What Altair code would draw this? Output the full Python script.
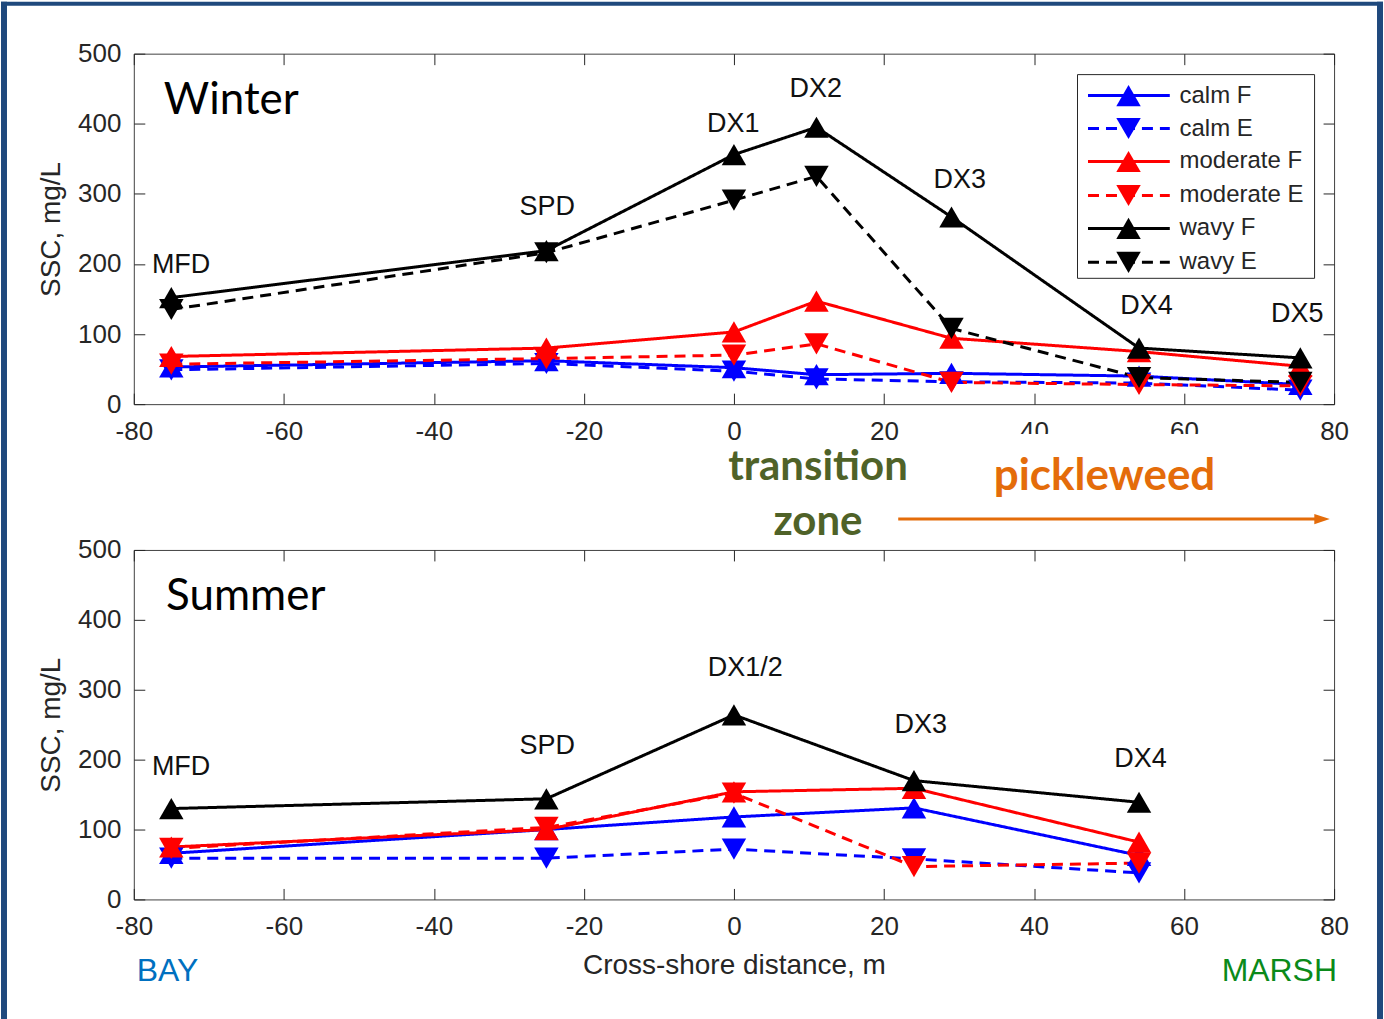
import altair as alt
import pandas as pd

# ---------------- data ----------------
series_names = ["calm F", "calm E", "moderate F", "moderate E", "wavy F", "wavy E"]
series_colors = ["#0000FF", "#0000FF", "#FF0000", "#FF0000", "#000000", "#000000"]
series_cond = ["F", "E", "F", "E", "F", "E"]

x_ticks = [-80, -60, -40, -20, 0, 20, 40, 60, 80]
y_ticks = [0, 100, 200, 300, 400, 500]

# Winter
winter_x = [-75, -25, 0, 11, 29, 54, 75.5]
winter_sites = ["MFD", "SPD", "DX1", "DX2", "DX3", "DX4", "DX5"]
winter_site_label_x = [-73.7, -24.9, -0.1, 10.9, 30.1, 55.0, 75.1]
winter_site_label_y = [199, 281, 400, 450, 320, 140, 128]
winter_calm_F = [53, 62, 52, 42, 44, 40, 28]
winter_calm_E = [49, 58, 47, 36, 32, 30, 20]
winter_moderate_F = [68, 80, 103, 147, 94, 75, 54]
winter_moderate_E = [57, 65, 70, 86, 31, 28, 26]
winter_wavy_F = [152, 219, 356, 395, 267, 80, 66]
winter_wavy_E = [135, 216, 291, 325, 108, 38, 31]

# Summer
summer_x = [-75, -25, 0, 24, 54]
summer_sites = ["MFD", "SPD", "DX1/2", "DX3", "DX4"]
summer_site_label_x = [-73.7, -24.9, 1.5, 24.9, 54.2]
summer_site_label_y = [190, 220, 331, 250, 201]
summer_calm_F = [66, 100, 118, 131, 63]
summer_calm_E = [59, 59, 72, 58, 38]
summer_moderate_F = [75, 100, 154, 159, 82]
summer_moderate_E = [73, 103, 152, 47, 52]
summer_wavy_F = [130, 144, 264, 170, 139]

# legend rows (in top-panel data units)
legend_row_y = [440.2, 393.2, 346.2, 297.7, 250.7, 202.3]

# ---------------- helpers ----------------
def long_df(xs, cols):
    rows = []
    for name, vals in cols.items():
        cond = name.split()[-1]
        for x, v in zip(xs, vals):
            rows.append({"x": x, "ssc": v, "series": name, "cond": cond})
    return pd.DataFrame(rows)

winter_df = long_df(winter_x, {
    "calm F": winter_calm_F, "calm E": winter_calm_E,
    "moderate F": winter_moderate_F, "moderate E": winter_moderate_E,
    "wavy F": winter_wavy_F, "wavy E": winter_wavy_E})
summer_df = long_df(summer_x, {
    "calm F": summer_calm_F, "calm E": summer_calm_E,
    "moderate F": summer_moderate_F, "moderate E": summer_moderate_E,
    "wavy F": summer_wavy_F})

winter_labels = pd.DataFrame({"x": winter_site_label_x, "y": winter_site_label_y, "t": winter_sites})
summer_labels = pd.DataFrame({"x": summer_site_label_x, "y": summer_site_label_y, "t": summer_sites})

W, H = 1202, 351
TICK = 11
AX_COL = "#262626"
FONT = "Liberation Sans"

xs = alt.Scale(domain=[-80, 80], nice=False, zero=False)
ys = alt.Scale(domain=[0, 500], nice=False, zero=False)
color_scale = alt.Scale(domain=series_names, range=series_colors)
dash_scale = alt.Scale(domain=["F", "E"], range=[[1, 0], [11, 7]])
shape_scale = alt.Scale(domain=["F", "E"], range=["triangle-up", "triangle-down"])

common_axis = dict(domain=False, grid=False, tickSize=TICK, offset=-TICK, tickColor=AX_COL,
                   tickWidth=1, labelColor=AX_COL, labelFont=FONT, labelFontSize=26,
                   labelFlush=False,
                   titleFont=FONT, titleFontSize=28, titleFontWeight="normal", titleColor=AX_COL)

def x_bottom(title):
    kw = dict(common_axis)
    if title:
        kw.update(title=title, titlePadding=12)
    else:
        kw.update(title=None)
    return alt.Axis(orient="bottom", values=x_ticks, labelPadding=14,
                    labelExpr="'' + datum.value", **kw)

def y_left():
    return alt.Axis(orient="left", values=y_ticks, labelPadding=13, title="SSC, mg/L",
                    titlePadding=12, labelExpr="'' + datum.value", **common_axis)

x_top = alt.Axis(orient="top", values=x_ticks, labels=False, title=None, **common_axis)
y_right = alt.Axis(orient="right", values=y_ticks, labels=False, title=None, **common_axis)


def data_layers(df, xtitle):
    lines = alt.Chart(df).mark_line(strokeWidth=3).encode(
        x=alt.X("x:Q", scale=xs, axis=x_bottom(xtitle)),
        y=alt.Y("ssc:Q", scale=ys, axis=y_left()),
        color=alt.Color("series:N", scale=color_scale, legend=None),
        strokeDash=alt.StrokeDash("cond:N", scale=dash_scale, legend=None),
        detail="series:N",
    )
    pts = alt.Chart(df).mark_point(filled=True, size=600, opacity=1).encode(
        x=alt.X("x:Q", scale=xs, axis=x_top),
        y=alt.Y("ssc:Q", scale=ys, axis=y_right),
        color=alt.Color("series:N", scale=color_scale, legend=None),
        shape=alt.Shape("cond:N", scale=shape_scale, legend=None),
    )
    return lines, pts


def text_layer(df, **mk):
    return alt.Chart(df).mark_text(**mk).encode(
        x=alt.X("x:Q", scale=xs, axis=None),
        y=alt.Y("y:Q", scale=ys, axis=None),
        text="t:N",
    )

one = pd.DataFrame({"a": [0]})

# ---------------- top panel ----------------
w_lines, w_pts = data_layers(winter_df, None)
w_sites = text_layer(winter_labels, font=FONT, fontSize=27, color="#111111")
w_title = text_layer(pd.DataFrame({"x": [-76], "y": [432], "t": ["Winter"]}),
                     font="Lato", fontSize=44, color="#000000", align="left", baseline="middle")

legend_df = pd.DataFrame({"series": series_names, "cond": series_cond, "y": legend_row_y,
                          "x1": [47.2] * 6, "x2": [58.1] * 6, "xm": [52.6] * 6, "xt": [59.4] * 6})
leg_box = alt.Chart(pd.DataFrame({"x1": [45.8], "x2": [77.4], "y1": [179.5], "y2": [470.1]})).mark_rect(
    fill="white", stroke=AX_COL, strokeWidth=1).encode(
    x=alt.X("x1:Q", scale=xs, axis=None), x2="x2:Q",
    y=alt.Y("y1:Q", scale=ys, axis=None), y2="y2:Q")
leg_lines = alt.Chart(legend_df).mark_rule(strokeWidth=3).encode(
    x=alt.X("x1:Q", scale=xs, axis=None), x2="x2:Q",
    y=alt.Y("y:Q", scale=ys, axis=None),
    color=alt.Color("series:N", scale=color_scale, legend=None),
    strokeDash=alt.StrokeDash("cond:N", scale=dash_scale, legend=None))
leg_pts = alt.Chart(legend_df).mark_point(filled=True, size=600, opacity=1).encode(
    x=alt.X("xm:Q", scale=xs, axis=None),
    y=alt.Y("y:Q", scale=ys, axis=None),
    color=alt.Color("series:N", scale=color_scale, legend=None),
    shape=alt.Shape("cond:N", scale=shape_scale, legend=None))
leg_text = alt.Chart(legend_df).mark_text(font=FONT, fontSize=24, color=AX_COL, align="left",
                                           baseline="middle").encode(
    x=alt.X("xt:Q", scale=xs, axis=None),
    y=alt.Y("y:Q", scale=ys, axis=None),
    text="series:N")

# text box of "pickleweed" covering part of tick labels
cover = alt.Chart(pd.DataFrame({"x1": [34.8], "x2": [66.1], "y1": [-42.7], "y2": [-138]})).mark_rect(
    fill="white").encode(
    x=alt.X("x1:Q", scale=xs, axis=None), x2="x2:Q",
    y=alt.Y("y1:Q", scale=ys, axis=None), y2="y2:Q")
ann_green = text_layer(pd.DataFrame({"x": [11.2, 11.2], "y": [-90, -168], "t": ["transition", "zone"]}),
                       font="Lato", fontSize=42, fontWeight="bold", color="#4F6228",
                       align="center", baseline="middle")
ann_orange = text_layer(pd.DataFrame({"x": [49.4], "y": [-104], "t": ["pickleweed"]}),
                        font="Lato", fontSize=44, fontWeight="bold", color="#E46C0A",
                        align="center", baseline="middle")
arrow_line = alt.Chart(pd.DataFrame({"x1": [21.9], "x2": [78.0], "y": [-164]})).mark_rule(
    color="#E46C0A", strokeWidth=3).encode(
    x=alt.X("x1:Q", scale=xs, axis=None), x2="x2:Q", y=alt.Y("y:Q", scale=ys, axis=None))
arrow_head = alt.Chart(pd.DataFrame({"x": [78.4], "y": [-164]})).mark_point(
    shape="M-1,-0.65L1,0L-1,0.65Z", filled=True, size=240, color="#E46C0A", opacity=1).encode(
    x=alt.X("x:Q", scale=xs, axis=None), y=alt.Y("y:Q", scale=ys, axis=None))

# slide frame (dark blue border bands)
BLUE = "#1F497D"
band_left = alt.Chart(one).mark_rect(color=BLUE).encode(
    x=alt.value(-133), x2=alt.value(-127), y=alt.value(-52), y2=alt.value(967))
band_right = alt.Chart(one).mark_rect(color=BLUE).encode(
    x=alt.value(1245), x2=alt.value(1251), y=alt.value(-52), y2=alt.value(967))
band_top = alt.Chart(one).mark_rect(color=BLUE).encode(
    x=alt.value(-133), x2=alt.value(1251), y=alt.value(-52), y2=alt.value(-48))

top = alt.layer(w_lines, w_pts, w_sites, w_title, leg_box, leg_lines, leg_pts, leg_text,
                cover, ann_green, ann_orange, arrow_line, arrow_head,
                band_left, band_right, band_top).properties(width=W, height=H)

# ---------------- bottom panel ----------------
s_lines, s_pts = data_layers(summer_df, "Cross-shore distance, m")
s_sites = text_layer(summer_labels, font=FONT, fontSize=27, color="#111111")
s_title = text_layer(pd.DataFrame({"x": [-75.7], "y": [433], "t": ["Summer"]}),
                     font="Lato", fontSize=44, color="#000000", align="left", baseline="middle")
bay = text_layer(pd.DataFrame({"x": [-75.5], "y": [-102], "t": ["BAY"]}),
                 font=FONT, fontSize=32, color="#0070C0", align="center", baseline="middle")
marsh = text_layer(pd.DataFrame({"x": [72.7], "y": [-102], "t": ["MARSH"]}),
                   font=FONT, fontSize=32, color="#0A8A1A", align="center", baseline="middle")

bottom = alt.layer(s_lines, s_pts, s_sites, s_title, bay, marsh).properties(width=W, height=350)

chart = alt.vconcat(top, bottom, spacing=146, bounds="flush").properties(
    padding=0, background="white"
).configure_view(stroke="#404040", strokeWidth=1).configure_axis(zindex=0)

chart.save("out.html", embed_options={"renderer": "svg", "actions": False})
